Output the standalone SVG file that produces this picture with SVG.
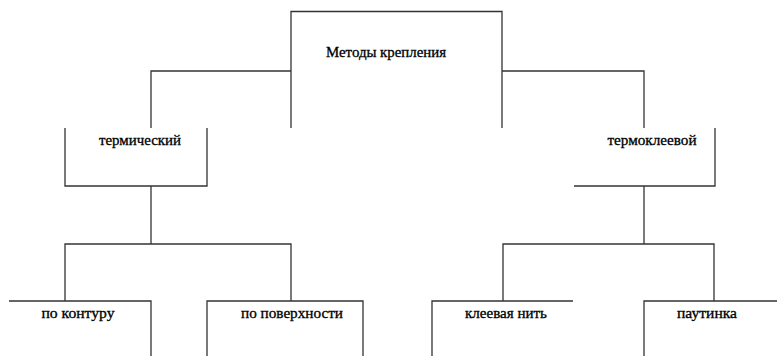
<svg xmlns="http://www.w3.org/2000/svg" width="777" height="356" viewBox="0 0 777 356">
<style>
.b{fill:none;stroke:#333;stroke-width:1.3}
.t{font-size:14px;fill:#000;text-anchor:middle;stroke:#000;stroke-width:0.3}
</style>
<rect width="777" height="356" fill="#fff"/>
<g font-family="Liberation Serif, DejaVu Serif, serif">
<g id="root"><path class="b" d="M291,128V11.5H502V128"/><text class="t" x="386" y="57" textLength="120" lengthAdjust="spacingAndGlyphs">Методы крепления</text></g>
<g id="termicheskiy"><path class="b" d="M65,128V186H207V128"/><text class="t" x="140" y="145" textLength="82" lengthAdjust="spacingAndGlyphs">термический</text></g>
<g id="termokleevoy"><path class="b" d="M574,186H715V128"/><text class="t" x="652" y="145" textLength="89" lengthAdjust="spacingAndGlyphs">термоклеевой</text></g>
<g id="po-konturu"><path class="b" d="M9,301H151V356"/><text class="t" x="78" y="318" textLength="73" lengthAdjust="spacingAndGlyphs">по контуру</text></g>
<g id="po-poverkhnosti"><path class="b" d="M207,356V301H363V356"/><text class="t" x="292" y="318" textLength="102" lengthAdjust="spacingAndGlyphs">по поверхности</text></g>
<g id="kleevaya-nit"><path class="b" d="M432,356V301H573"/><text class="t" x="506" y="318" textLength="82" lengthAdjust="spacingAndGlyphs">клеевая нить</text></g>
<g id="pautinka"><path class="b" d="M644,356V301H777"/><text class="t" x="707" y="318" textLength="60" lengthAdjust="spacingAndGlyphs">паутинка</text></g>
</g>
<g id="connectors">
<path class="b" d="M291,71H151V128"/>
<path class="b" d="M502,71H644V128"/>
<path class="b" d="M151,186V244"/>
<path class="b" d="M65,301V244H291V301"/>
<path class="b" d="M644,186V244"/>
<path class="b" d="M503,301V244H714V301"/>
</g>
</svg>
